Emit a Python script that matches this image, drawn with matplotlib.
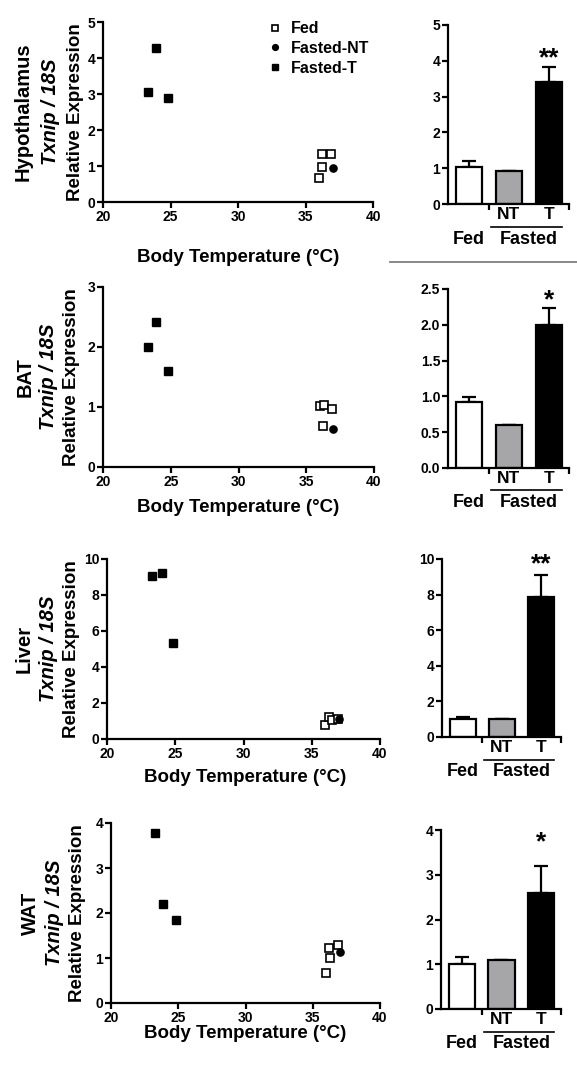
import matplotlib
matplotlib.use("Agg")
import matplotlib.pyplot as plt
from matplotlib.lines import Line2D
from matplotlib import transforms as mtrans
import numpy as np

plt.rcParams['font.family'] = ['Liberation Sans', 'DejaVu Sans']
plt.rcParams['font.weight'] = 'bold'

W, H = 577, 1066

tissues = ["Hypothalamus", "BAT", "Liver", "WAT"]

# Scatter data (body temperature, relative expression)
hyp_fed_t = [36.0, 36.2, 36.2, 36.9]
hyp_fed_y = [0.67, 0.97, 1.32, 1.32]
hyp_nt_t = [37.0]
hyp_nt_y = [0.95]
hyp_ft_t = [23.3, 23.9, 24.8]
hyp_ft_y = [3.05, 4.28, 2.90]

bat_fed_t = [36.0, 36.3, 36.9, 36.2]
bat_fed_y = [1.02, 1.04, 0.97, 0.69]
bat_nt_t = [37.0]
bat_nt_y = [0.63]
bat_ft_t = [23.3, 23.9, 24.8]
bat_ft_y = [2.00, 2.41, 1.60]

liv_fed_t = [36.0, 36.3, 36.5, 36.9]
liv_fed_y = [0.80, 1.25, 1.05, 1.10]
liv_nt_t = [37.0]
liv_nt_y = [1.10]
liv_ft_t = [23.3, 24.0, 24.8]
liv_ft_y = [9.05, 9.25, 5.35]

wat_fed_t = [36.0, 36.3, 36.2, 36.9]
wat_fed_y = [0.67, 1.00, 1.22, 1.28]
wat_nt_t = [37.0]
wat_nt_y = [1.14]
wat_ft_t = [23.3, 23.9, 24.8]
wat_ft_y = [3.78, 2.20, 1.84]

# Bar data: Fed, Fasted-NT, Fasted-T
bar_groups = ["Fed", "NT", "T"]
hyp_bar = [1.02, 0.92, 3.42]
hyp_err = [0.17, 0.0, 0.40]
bat_bar = [0.92, 0.60, 2.00]
bat_err = [0.07, 0.0, 0.23]
liv_bar = [1.00, 1.00, 7.85]
liv_err = [0.10, 0.0, 1.25]
wat_bar = [1.00, 1.10, 2.60]
wat_err = [0.17, 0.0, 0.60]
significance = ["**", "*", "**", "*"]

scatter_sets = [
    (hyp_fed_t, hyp_fed_y, hyp_nt_t, hyp_nt_y, hyp_ft_t, hyp_ft_y),
    (bat_fed_t, bat_fed_y, bat_nt_t, bat_nt_y, bat_ft_t, bat_ft_y),
    (liv_fed_t, liv_fed_y, liv_nt_t, liv_nt_y, liv_ft_t, liv_ft_y),
    (wat_fed_t, wat_fed_y, wat_nt_t, wat_nt_y, wat_ft_t, wat_ft_y),
]
bar_sets = [(hyp_bar, hyp_err), (bat_bar, bat_err), (liv_bar, liv_err), (wat_bar, wat_err)]

scatter_ylims = [(0, 5), (0, 3), (0, 10), (0, 4)]
scatter_yticks = [np.arange(0, 6, 1), np.arange(0, 4, 1), np.arange(0, 11, 2), np.arange(0, 5, 1)]
bar_ylims = [(0, 5), (0, 2.5), (0, 10), (0, 4)]
bar_yticks = [np.arange(0, 6, 1), np.arange(0, 2.6, 0.5), np.arange(0, 11, 2), np.arange(0, 5, 1)]
bar_ytickfmt = ["{:.0f}", "{:.1f}", "{:.0f}", "{:.0f}"]

# layout in pixels: (left, right, top, bottom)
scatter_boxes = [(103, 373, 22, 202), (103, 374, 287, 467), (107, 380, 559, 739), (111, 380, 823, 1003)]
bar_boxes = [(448, 569, 25, 204), (448, 569, 289, 468), (442, 561, 559, 737), (441, 561, 830, 1009)]
ylabel_x = [(23, 51, 75), (25, 49, 72), (24, 49, 72), (30, 54, 78)]
xlabel_pos = [(238, 257), (238, 507), (245, 778), (245, 1033)]
star_centers_px = [12, 11, 13, 26]

fig = plt.figure(figsize=(W / 100, H / 100), dpi=100)


def add_ax(box):
    l, r, t, b = box
    return fig.add_axes([l / W, 1 - b / H, (r - l) / W, (b - t) / H])


def style(ax):
    for s in ["top", "right"]:
        ax.spines[s].set_visible(False)
    for s in ["left", "bottom"]:
        ax.spines[s].set_linewidth(1.6)
    ax.tick_params(direction="out", length=4, width=1.6, labelsize=10, pad=1.5)
    for lab in ax.get_xticklabels() + ax.get_yticklabels():
        lab.set_fontweight("bold")


for i in range(4):
    ax = add_ax(scatter_boxes[i])
    ft, fy, nt, ny, tt, ty = scatter_sets[i]
    ax.plot(ft, fy, "s", ms=6.2, mfc="white", mec="black", mew=1.2, ls="none", label="Fed", clip_on=False)
    ax.plot(nt, ny, "o", ms=5.2, color="black", ls="none", label="Fasted-NT", clip_on=False)
    ax.plot(tt, ty, "s", ms=6.2, color="black", ls="none", label="Fasted-T", clip_on=False)
    ax.set_xlim(20, 40)
    ax.set_ylim(*scatter_ylims[i])
    ax.set_xticks([20, 25, 30, 35, 40])
    ax.set_yticks(scatter_yticks[i])
    style(ax)
    if i == 0:
        ax.legend(loc="upper left", bbox_to_anchor=(0.585, 1.04), frameon=False,
                  prop={"size": 11.5, "weight": "bold"}, handletextpad=0.45,
                  labelspacing=0.3, borderaxespad=0, handlelength=1.0, markerscale=0.8)
    l, r, t, b = scatter_boxes[i]
    yc = 1 - (t + b) / 2 / H
    x0, x1, x2 = ylabel_x[i]
    fig.text(x0 / W, yc, tissues[i], rotation=90, ha="center", va="center", fontsize=14.5, fontweight="bold")
    fig.text(x1 / W, yc, "Txnip / 18S", rotation=90, ha="center", va="center", fontsize=14.5,
             fontweight="bold", fontstyle="italic")
    fig.text(x2 / W, yc, "Relative Expression", rotation=90, ha="center", va="center", fontsize=13.5,
             fontweight="bold")
    xl, yl = xlabel_pos[i]
    fig.text(xl / W, 1 - yl / H, "Body Temperature (\u00b0C)", ha="center", va="center",
             fontsize=13.5, fontweight="bold")

    # bar chart
    bx = add_ax(bar_boxes[i])
    vals, errs = bar_sets[i]
    xs = np.arange(len(vals))
    bx.errorbar(xs, vals, yerr=[np.zeros(len(vals)), errs], fmt="none", ecolor="black",
                elinewidth=1.6, capsize=5, capthick=1.6, zorder=1)
    bx.bar(xs, vals, width=0.66, color=["white", "#a6a6a8", "black"], edgecolor="black",
           linewidth=1.6, zorder=2)
    bx.set_xlim(-0.525, 2.5)
    bx.set_ylim(*bar_ylims[i])
    bx.set_xticks([0.5, 2.5])
    bx.set_xticklabels([])
    bx.set_yticks(bar_yticks[i])
    bx.set_yticklabels([bar_ytickfmt[i].format(v) for v in bar_yticks[i]])
    style(bx)
    trans = mtrans.blended_transform_factory(bx.transData, bx.transAxes)
    hpx = bar_boxes[i][3] - bar_boxes[i][2]
    bx.text(1, -10.5 / hpx, bar_groups[1], transform=trans, ha="center", va="center", fontsize=12.5, fontweight="bold")
    bx.text(2, -10.5 / hpx, bar_groups[2], transform=trans, ha="center", va="center", fontsize=12.5, fontweight="bold")
    bx.add_line(Line2D([0.55, 2.33], [-22.5 / hpx, -22.5 / hpx], transform=trans, color="black",
                       lw=1.2, clip_on=False))
    bx.text(0, -35 / hpx, "Fed", transform=trans, ha="center", va="center", fontsize=13, fontweight="bold")
    bx.text(1.5, -35 / hpx, "Fasted", transform=trans, ha="center", va="center", fontsize=13, fontweight="bold")
    # asterisk glyph sits high in its box: shift baseline so the glyph centre lands where wanted
    bx.annotate(significance[i], xy=(2, vals[2] + errs[2]), xytext=(0, star_centers_px[i] * 0.72 - 7),
                textcoords="offset points", ha="center", va="baseline", fontsize=19, fontweight="bold")

# separator line between first and second rows
fig.add_artist(Line2D([390 / W, 1.0], [1 - 262 / H, 1 - 262 / H], color="#808080", lw=1.3))

fig.savefig("out.png", dpi=100)
